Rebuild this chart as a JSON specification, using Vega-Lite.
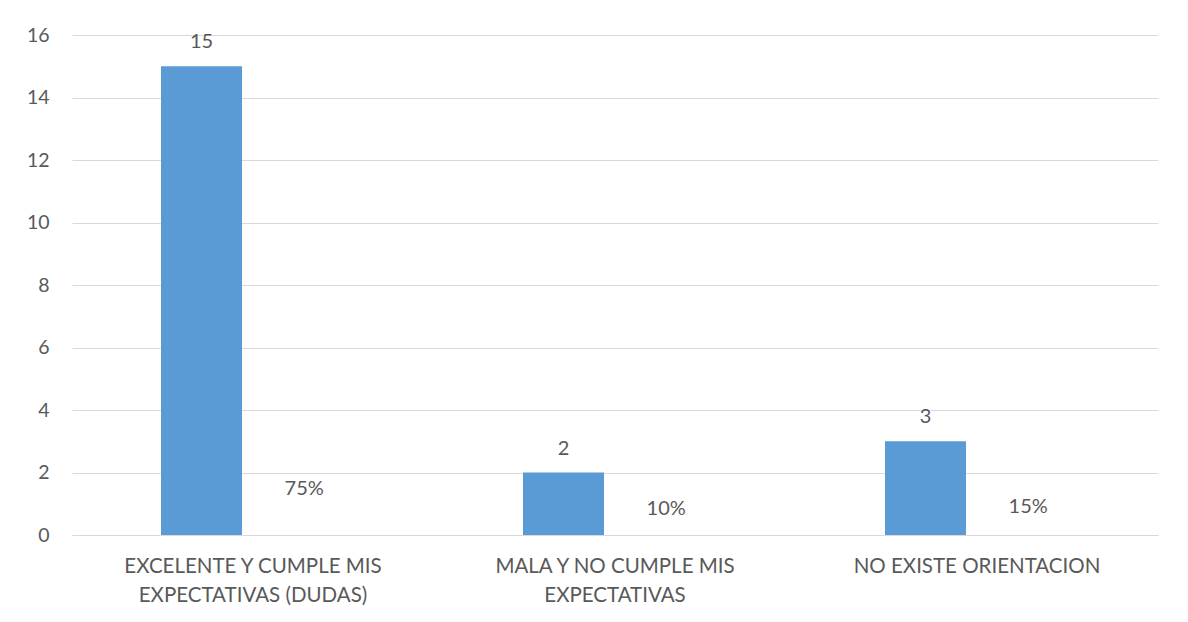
{
  "$schema": "https://vega.github.io/schema/vega-lite/v6.json",
  "autosize": "none",
  "width": 1086,
  "height": 500,
  "padding": {"left": 72, "top": 35, "right": 30, "bottom": 87},
  "background": "white",
  "config": {
    "view": {"stroke": null},
    "font": "Lato",
    "axis": {"labelFont": "Lato", "labelColor": "#595959", "labelFontSize": 19.5}
  },
  "data": {
    "values": [
      {"categoria": "EXCELENTE Y CUMPLE MIS|EXPECTATIVAS (DUDAS)", "serie": "Cantidad", "valor": 15, "etiqueta": "15"},
      {"categoria": "EXCELENTE Y CUMPLE MIS|EXPECTATIVAS (DUDAS)", "serie": "Porcentaje", "valor": 0.75, "etiqueta": "75%"},
      {"categoria": "MALA Y NO CUMPLE MIS|EXPECTATIVAS", "serie": "Cantidad", "valor": 2, "etiqueta": "2"},
      {"categoria": "MALA Y NO CUMPLE MIS|EXPECTATIVAS", "serie": "Porcentaje", "valor": 0.1, "etiqueta": "10%"},
      {"categoria": "NO EXISTE ORIENTACION", "serie": "Cantidad", "valor": 3, "etiqueta": "3"},
      {"categoria": "NO EXISTE ORIENTACION", "serie": "Porcentaje", "valor": 0.15, "etiqueta": "15%"}
    ]
  },
  "encoding": {
    "x": {
      "field": "categoria", "type": "nominal", "sort": null,
      "scale": {"paddingInner": 0, "paddingOuter": 0},
      "axis": {
        "title": null, "labelAngle": 0, "ticks": false,
        "domain": true, "domainColor": "#D9D9D9", "domainWidth": 1,
        "labelExpr": "split(datum.label, '|')", "labelLimit": 0, "labelFontSize": 20.5,
        "labelPadding": 21, "labelLineHeight": 29, "labelBaseline": "top"
      }
    },
    "xOffset": {
      "field": "serie", "type": "nominal", "sort": ["Cantidad", "Porcentaje"],
      "scale": {"paddingInner": 0.1352, "paddingOuter": 1, "align": 0.4751}
    },
    "y": {
      "field": "valor", "type": "quantitative",
      "scale": {"domain": [0, 16], "nice": false},
      "axis": {
        "title": null, "values": [0, 2, 4, 6, 8, 10, 12, 14, 16],
        "ticks": false, "domain": false, "grid": true,
        "gridColor": "#D9D9D9", "gridWidth": 1, "labelPadding": 23
      }
    }
  },
  "layer": [
    {
      "mark": {"type": "bar"},
      "encoding": {
        "fill": {
          "field": "serie", "type": "nominal",
          "scale": {"domain": ["Cantidad", "Porcentaje"], "range": ["#5B9BD5", "transparent"]},
          "legend": null
        }
      }
    },
    {
      "transform": [{"filter": "datum.serie == 'Cantidad'"}],
      "mark": {"type": "text", "baseline": "alphabetic", "dy": -18, "fontSize": 20, "color": "#595959"},
      "encoding": {"text": {"field": "etiqueta"}}
    },
    {
      "transform": [{"filter": "datum.serie == 'Porcentaje'"}],
      "mark": {"type": "text", "baseline": "alphabetic", "dy": -17, "dx": 9, "fontSize": 20, "color": "#595959"},
      "encoding": {"text": {"field": "etiqueta"}}
    }
  ]
}
